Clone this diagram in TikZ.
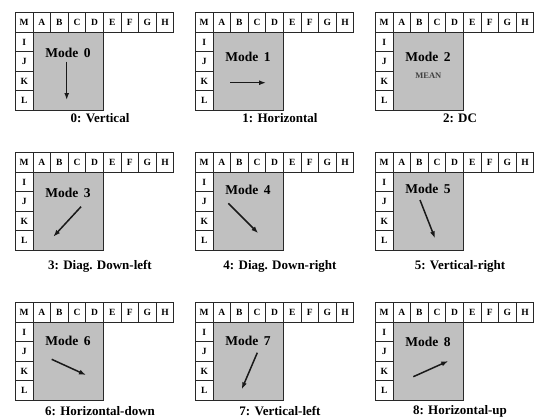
\documentclass[tikz,border=0pt]{standalone}
\usepackage{fontspec}
\setmainfont{Liberation Serif}
\usetikzlibrary{arrows.meta}
\definecolor{blockgray}{RGB}{192,192,192}
\definecolor{edgegray}{RGB}{40,40,40}
\tikzset{
  cell/.style={draw=edgegray, line width=0.8bp, fill=white, anchor=north west,
    minimum width=17.6bp, minimum height=19.5bp, inner sep=0pt,
    font=\bfseries\fontsize{9.5bp}{10bp}\selectfont},
  block/.style={draw=edgegray, line width=0.9bp, fill=blockgray, anchor=north west,
    minimum width=70.4bp, minimum height=78bp, inner sep=0pt},
  modelabel/.style={inner sep=0pt, font=\bfseries\fontsize{13.5bp}{14bp}\selectfont},
  meanlabel/.style={inner sep=0pt, text=black!75, font=\bfseries\fontsize{8.5bp}{9bp}\selectfont},
  caption/.style={inner sep=0pt, font=\bfseries\fontsize{13bp}{14bp}\selectfont},
  dirarrow/.style={line width=1.5bp, black!90, -{Latex[length=7bp,width=5bp]}},
}
% #1 name prefix, #2 x shift, #3 y shift, #4 mode number,
% #5 y of the mode label, #6 y of the caption, #7 caption text
\newcommand\modepanel[7]{%
  \begin{scope}[shift={(#2,#3)}]
    \node[cell] (#1M) at (15,12.3) {M};
    \foreach \l [count=\i] in {A,B,C,D,E,F,G,H}
      \node[cell] (#1\l) at ({15+17.6*\i},12.3) {\l};
    \foreach \l [count=\i from 0] in {I,J,K,L}
      \node[cell] (#1\l) at (15,{31.8+19.5*\i}) {\l};
    \node[block] (#1blk) at (32.6,31.8) {};
    \node[modelabel] (#1lab) at (68,#5) {Mode\hspace{5.5bp}#4};
    \node[caption] (#1cap) at (100,#6) {#7};
  \end{scope}}

\begin{document}
\begin{tikzpicture}[x=1bp,y=-1bp]
  \useasboundingbox (0,0) rectangle (536,419);

  \modepanel{a}{0}{0}{0}{52.7}{118.3}{0: Vertical}
  \modepanel{b}{180}{0}{1}{56.7}{118.3}{1: Horizontal}
  \modepanel{c}{360}{0}{2}{56.7}{118.3}{2: DC}
  \modepanel{d}{0}{140}{3}{52.7}{126}{3: Diag. Down-left}
  \modepanel{e}{180}{140}{4}{50}{126}{4: Diag. Down-right}
  \modepanel{f}{360}{140}{5}{49.3}{126}{5: Vertical-right}
  \modepanel{g}{0}{290}{6}{51}{121}{6: Horizontal-down}
  \modepanel{h}{180}{290}{7}{51}{121}{7: Vertical-left}
  \modepanel{k}{360}{290}{8}{51.7}{121}{8: Horizontal-up}

  % DC mode has no direction, only the mean
  \node[meanlabel] (cmean) at (428.3,76) {MEAN};

  % prediction directions
  \coordinate (a1) at (66.7,61.7);  \coordinate (a2) at (66.7,100);
  \coordinate (b1) at (230,82.7);   \coordinate (b2) at (266,82.7);
  \coordinate (d1) at (81,206.7);   \coordinate (d2) at (53.3,236.7);
  \coordinate (e1) at (228.3,203.3);\coordinate (e2) at (258.3,233.3);
  \coordinate (f1) at (420,200);    \coordinate (f2) at (435,238.3);
  \coordinate (g1) at (51.7,359.3); \coordinate (g2) at (86,375);
  \coordinate (h1) at (257.3,352.7);\coordinate (h2) at (241.7,389.3);
  \coordinate (k1) at (413.3,376.7);\coordinate (k2) at (448.3,361);
  \foreach \p in {a,b,d,e,f,g,h,k}
    \draw[dirarrow] (\p1) -- (\p2);
\end{tikzpicture}
\end{document}
